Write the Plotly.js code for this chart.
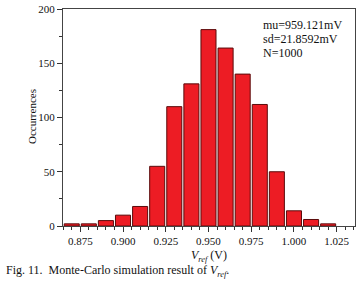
<!DOCTYPE html>
<html>
<head>
<meta charset="utf-8">
<script src="https://cdn.plot.ly/plotly-3.0.1.min.js"></script>
<style>
html,body{margin:0;padding:0;background:#fff;}
#chart{width:364px;height:290px;}
</style>
</head>
<body>
<div id="chart"></div>
<script>
// Bin centers (V) and occurrence counts
const binCenters = [0.87, 0.88, 0.89, 0.90, 0.91, 0.92, 0.93, 0.94, 0.95, 0.96, 0.97, 0.98, 0.99, 1.00, 1.01, 1.02];
const counts     = [2, 2, 5, 10, 18, 55, 110, 131, 181, 164, 140, 112, 50, 14, 6, 2];
const xTickVals  = [0.875, 0.900, 0.925, 0.950, 0.975, 1.000, 1.025];
const xTickText  = ['0.875', '0.900', '0.925', '0.950', '0.975', '1.000', '1.025'];
const yTickVals  = [0, 50, 100, 150, 200];
const statsLines = ['mu=959.121mV', 'sd=21.8592mV', 'N=1000'];
const xTitle     = '<i>V</i><sub><i>ref</i></sub> (V)';
const yTitle     = 'Occurrences';
const caption    = 'Fig. 11.  Monte-Carlo simulation result of <i>V</i><sub><i>ref</i></sub>.';

const font = 'Liberation Serif, Times New Roman, serif';
const plotTop = 9, plotH = 217, plotL = 63, plotW = 292;
const py = (px) => 1 - (px - plotTop) / plotH;
const pxX = (px) => (px - plotL) / plotW;

const trace = {
  type: 'bar',
  x: binCenters,
  y: counts,
  marker: {color: '#ED1C24', line: {color: '#5A0B0B', width: 1}},
  hoverinfo: 'skip'
};

const annotations = statsLines.map((t, i) => ({
  text: t, xref: 'paper', yref: 'paper',
  x: pxX(261), y: py(25 + i * 14),
  xanchor: 'left', yanchor: 'middle', showarrow: false,
  font: {family: font, size: 12, color: '#111'}
}));
annotations.push({
  text: xTitle, xref: 'paper', yref: 'paper',
  x: pxX(209), y: py(256),
  xanchor: 'center', yanchor: 'middle', showarrow: false,
  font: {family: font, size: 12, color: '#111'}
});
annotations.push({
  text: yTitle, xref: 'paper', yref: 'paper',
  x: pxX(32), y: py(117),
  xanchor: 'center', yanchor: 'middle', showarrow: false, textangle: -90,
  font: {family: font, size: 11, color: '#111'}
});
annotations.push({
  text: caption, xref: 'paper', yref: 'paper',
  x: pxX(4), y: py(271),
  xanchor: 'left', yanchor: 'middle', showarrow: false,
  font: {family: font, size: 12, color: '#111'}
});

const layout = {
  width: 364, height: 290,
  margin: {l: plotL, r: 364 - plotL - plotW, t: plotTop, b: 290 - plotTop - plotH},
  paper_bgcolor: '#fff', plot_bgcolor: '#fff',
  showlegend: false,
  bargap: 0.12,
  font: {family: font, size: 11, color: '#111'},
  xaxis: {
    range: [0.8649, 1.0357],
    tickvals: xTickVals, ticktext: xTickText,
    ticks: 'outside', ticklen: 5, tickwidth: 1, tickcolor: '#333',
    minor: {dtick: 0.005, tick0: 0.875, ticks: 'outside', ticklen: 3, tickcolor: '#333'},
    showline: true, linecolor: '#444', linewidth: 1, mirror: true,
    showgrid: false, zeroline: false,
    tickfont: {family: font, size: 11, color: '#111'}
  },
  yaxis: {
    range: [0, 200],
    tickvals: yTickVals,
    ticks: 'outside', ticklen: 5, tickwidth: 1, tickcolor: '#333',
    minor: {dtick: 25, ticks: 'outside', ticklen: 3, tickcolor: '#333'},
    showline: true, linecolor: '#444', linewidth: 1, mirror: true,
    showgrid: false, zeroline: false,
    tickfont: {family: font, size: 11, color: '#111'}
  },
  annotations: annotations
};

Plotly.newPlot('chart', [trace], layout, {displayModeBar: false, staticPlot: true});
</script>
</body>
</html>
